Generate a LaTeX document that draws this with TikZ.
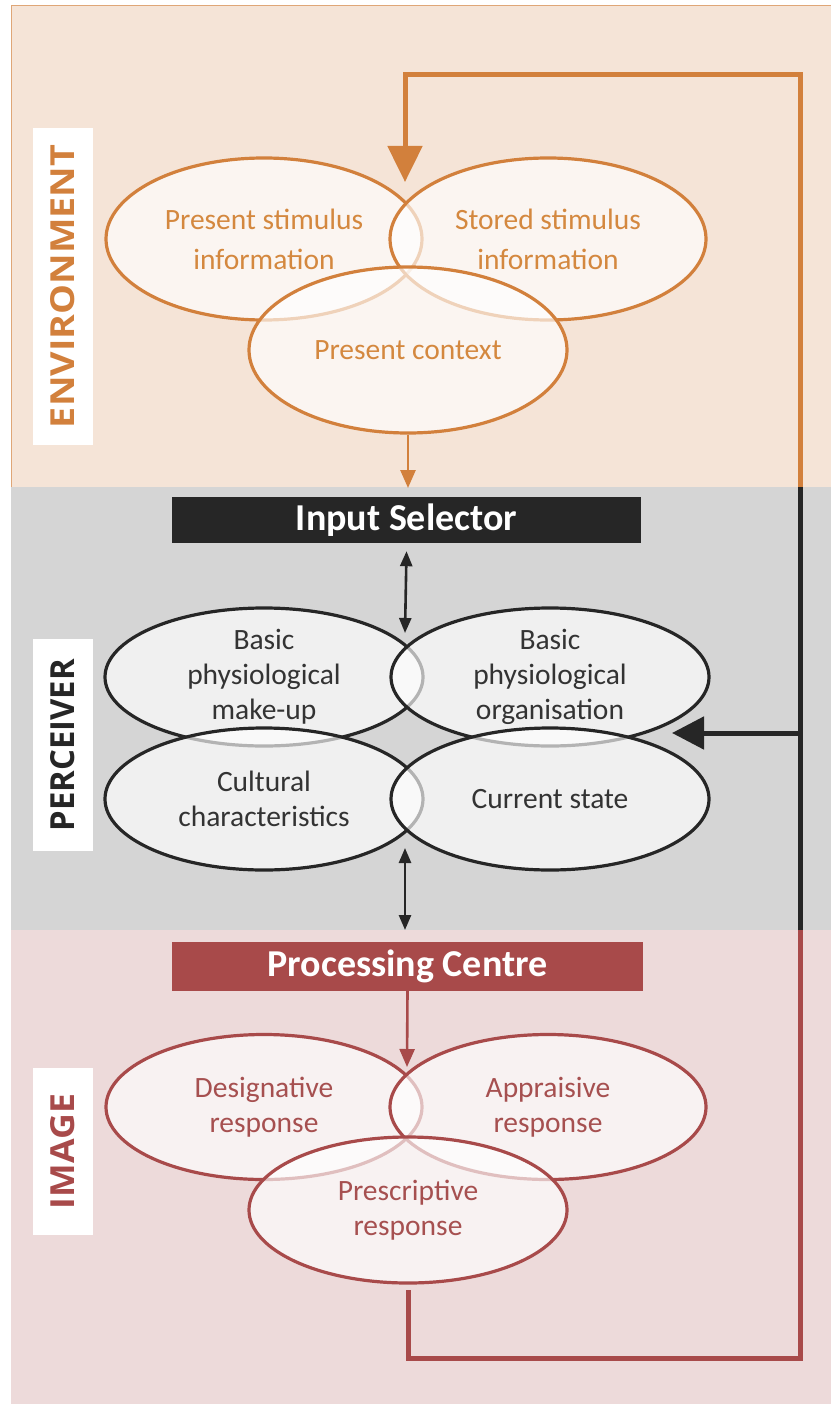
\documentclass[tikz,border=0pt]{standalone}
\usepackage{fontspec}
\usepackage{graphicx}
\setmainfont{Carlito}
\newfontfamily\lblfont{Open Sans}
\usetikzlibrary{shapes.geometric,arrows.meta}

\definecolor{envbg}{HTML}{F5E4D7}
\definecolor{envline}{HTML}{D2803C}
\definecolor{envtext}{HTML}{D4883F}
\definecolor{percbg}{HTML}{D5D5D5}
\definecolor{percline}{HTML}{262626}
\definecolor{perctext}{HTML}{333333}
\definecolor{imgbg}{HTML}{EDDADA}
\definecolor{imgline}{HTML}{A84A4A}
\definecolor{imgtext}{HTML}{A65050}

\tikzset{
  bubble/.style={ellipse, draw, line width=3.2pt, fill=white, fill opacity=0.65,
    text opacity=1, draw opacity=1, inner sep=0pt, align=center},
  envbubble/.style={bubble, draw=envline, text=envtext,
    font=\fontsize{29.5}{40}\selectfont},
  percbubble/.style={bubble, draw=percline, text=perctext,
    font=\fontsize{29.5}{35}\selectfont},
  imgbubble/.style={bubble, draw=imgline, text=imgtext,
    font=\fontsize{29.5}{35}\selectfont},
  stagebox/.style={rectangle, inner sep=0pt, text=white,
    font=\fontsize{38}{44}\selectfont\bfseries},
  sidelabel/.style={rectangle, fill=white, inner sep=0pt, rotate=90,
    minimum height=60pt},
  loopline/.style={line width=5pt, line join=miter},
  smallarrow/.style={line width=2.6pt, -{Triangle[length=18pt,width=15pt]}},
  twoway/.style={line width=2.6pt,
    {Triangle[length=15pt,width=12pt]}-{Triangle[length=15pt,width=12pt]}},
}

\begin{document}
\begin{tikzpicture}[x=1pt, y=-1pt]
\useasboundingbox (0,0) rectangle (831,1404);

% background bands
\fill[white] (0,0) rectangle (831,1404);
\fill[envbg] (11,6) rectangle (831,487);
\draw[envline!70, line width=1pt] (11,487) -- (11,6) -- (831,6);
\fill[percbg] (11,487) rectangle (831,930);
\fill[imgbg] (11,930) rectangle (831,1404);

% side labels
\node[sidelabel, minimum width=317pt] (lenv) at (62.5,286.5)
  {\color{envline}\resizebox{283pt}{24pt}{\lblfont\bfseries ENVIRONMENT}};
\node[sidelabel, minimum width=212pt] (lperc) at (63,745)
  {\color{percline}\resizebox{172pt}{24pt}{\lblfont\bfseries PERCEIVER}};
\node[sidelabel, minimum width=167pt] (limg) at (63,1151.5)
  {\color{imgline}\resizebox{115pt}{24pt}{\lblfont\bfseries IMAGE}};

% environment
\node[envbubble, minimum width=316pt, minimum height=162pt] (esl) at (264,239)
  {Present stimulus\\information};
\node[envbubble, minimum width=316pt, minimum height=162pt] (esr) at (548,239)
  {Stored stimulus\\information};
\node[envbubble, minimum width=318pt, minimum height=166pt] (ectx) at (408,350)
  {Present context};

% perceiver
\node[stagebox, fill=percline, minimum width=469pt, minimum height=46pt]
  (insel) at (406.5,520) {Input Selector};
\node[percbubble, minimum width=318pt, minimum height=138pt] (ptl) at (264,677)
  {Basic\\physiological\\make-up};
\node[percbubble, minimum width=318pt, minimum height=138pt] (ptr) at (550,677)
  {Basic\\physiological\\organisation};
\node[percbubble, minimum width=318pt, minimum height=142pt] (pbl) at (264,799)
  {Cultural\\characteristics};
\node[percbubble, minimum width=318pt, minimum height=142pt] (pbr) at (550,799)
  {Current state};

% image
\node[stagebox, fill=imgline, minimum width=471pt, minimum height=49pt]
  (proc) at (407.5,966.5) {Processing Centre};
\node[imgbubble, minimum width=316pt, minimum height=145pt] (ides) at (264,1107)
  {Designative\\response};
\node[imgbubble, minimum width=316pt, minimum height=145pt] (iapp) at (548,1107)
  {Appraisive\\response};
\node[imgbubble, minimum width=318pt, minimum height=146pt] (ipre) at (408,1210)
  {Prescriptive\\response};

% connector end points
\coordinate (envexit) at (408,488);
\coordinate (ptop) at (405,633);
\coordinate (pbot) at (405,848);
\coordinate (pexit) at (405,930);
\coordinate (imgtop) at (407,1067);
\coordinate (fbstart) at (408,1290);
\coordinate (fbbl) at (408,1358);
\coordinate (fbbr) at (800,1358);
\coordinate (fbimg) at (800,930);
\coordinate (fbperc) at (800,487);
\coordinate (fbmid) at (800,733);
\coordinate (fbside) at (672,733);
\coordinate (fbtr) at (800,75);
\coordinate (fbtl) at (405,75);
\coordinate (fbtip) at (405,182);

% flow arrows
\draw[smallarrow, envline] (ectx.south) -- (envexit);
\draw[twoway, percline] ([yshift=-8pt]insel.south) -- (ptop);
\draw[twoway, percline] (pbot) -- (pexit);
\draw[smallarrow, imgline] (proc.south) -- (imgtop);

% feedback loop
\draw[loopline, imgline] (fbstart) -- (fbbl) -- (fbbr) -- (fbimg);
\draw[loopline, percline] (fbimg) -- (fbperc);
\draw[loopline, percline, -{Triangle[length=32pt,width=32pt]}] (fbmid) -- (fbside);
\draw[loopline, envline, -{Triangle[length=36pt,width=34pt]}]
  (fbperc) -- (fbtr) -- (fbtl) -- (fbtip);
\end{tikzpicture}
\end{document}
